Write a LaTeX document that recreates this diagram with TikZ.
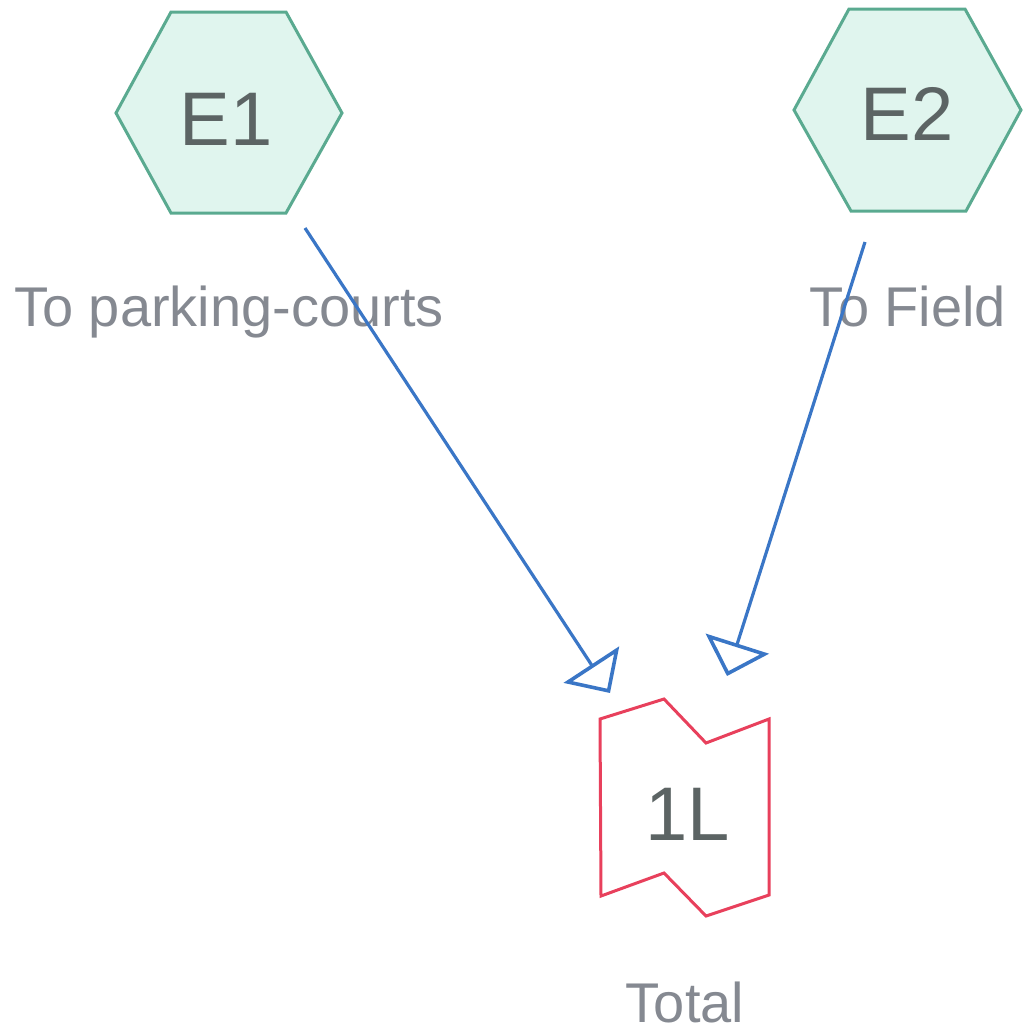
\documentclass[tikz,border=0pt]{standalone}
\usepackage{fontspec}
\setmainfont{Liberation Sans}
\usetikzlibrary{arrows.meta}
\definecolor{hexfill}{HTML}{E0F5EE}
\definecolor{hexline}{HTML}{5AAA90}
\definecolor{idtext}{HTML}{5C6464}
\definecolor{lbltext}{HTML}{858991}
\definecolor{redline}{HTML}{E8405C}
\definecolor{arrblue}{HTML}{3A76C6}
\tikzset{
  hexshape/.style={draw=hexline, fill=hexfill, line width=3pt, line join=miter},
  idlabel/.style={text=idtext, inner sep=0pt, anchor=base, font=\fontsize{76}{90}\selectfont},
  caption/.style={text=lbltext, inner sep=0pt, anchor=base, font=\fontsize{56}{66}\selectfont},
  flow/.style={draw=arrblue, line width=3.2pt, -{Triangle[open, length=34pt, width=66pt, line width=3.6pt]}},
  sheet/.style={draw=redline, line width=3pt, line join=miter}
}
\begin{document}
\begin{tikzpicture}[x=1pt,y=-1pt]
\useasboundingbox (0,0) rectangle (1024,1034);
% hexagons
\draw[hexshape] (171,12) -- (286,12) -- (342,113) -- (286,213) -- (171,213) -- (116,113) -- cycle;
\draw[hexshape] (849,9) -- (965,9) -- (1021,110) -- (966,211) -- (851,211) -- (794,110) -- cycle;
\node[idlabel] (E1) at (226,145) {E1};
\node[idlabel] (E2) at (907,140) {E2};
% 1L shape
\draw[sheet] (600,719) -- (664,699) -- (706,743) -- (769,719) -- (769,895) -- (706,916) -- (664,873) -- (601,896) -- cycle;
\node[idlabel] (L1) at (688,840) {1L};
% captions
\node[caption] (c1) at (229,326) {To parking-courts};
\node[caption] (c2) at (908,326) {To Field};
\node[caption] (c3) at (685,1022) {Total};
% connectors
\coordinate (s1) at (305,228);
\coordinate (t1) at (610,693);
\coordinate (s2) at (865,242);
\coordinate (t2) at (727,676);
\draw[flow] (s1) -- (t1);
\draw[flow] (s2) -- (t2);
\end{tikzpicture}
\end{document}
